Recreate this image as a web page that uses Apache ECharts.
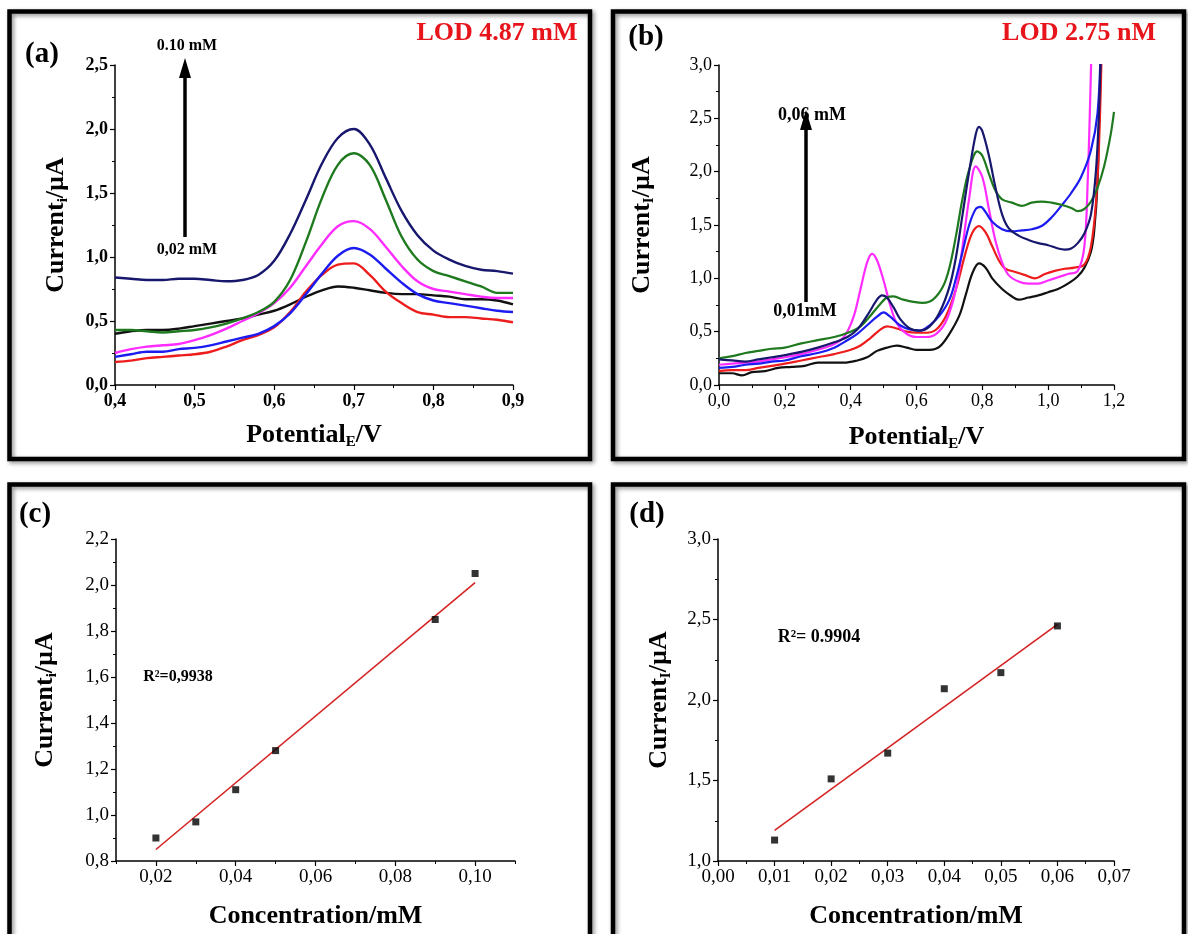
<!DOCTYPE html>
<html>
<head>
<meta charset="utf-8">
<script src="https://cdn.jsdelivr.net/npm/echarts@6/dist/echarts.min.js"></script>
<style>
    html, body { margin: 0; padding: 0; background: #fff; }
    #chart { width: 1188px; height: 934px; }
</style>
</head>
<body>
<div id="chart"></div>
<script>
    // ---------------- data: panel (a), DPV 0.02 -> 0.10 mM ----------------
    var potentialA = [0.40, 0.42, 0.44, 0.46, 0.48, 0.50, 0.52, 0.54, 0.56, 0.58, 0.60, 0.62, 0.64,
        0.66, 0.68, 0.70, 0.72, 0.74, 0.76, 0.78, 0.80, 0.82, 0.84, 0.86, 0.88, 0.90];
    var aNavy = [0.84, 0.83, 0.82, 0.82, 0.83, 0.83, 0.82, 0.81, 0.82, 0.86, 0.97, 1.18, 1.45,
        1.73, 1.93, 2.00, 1.88, 1.62, 1.36, 1.17, 1.05, 0.98, 0.93, 0.90, 0.89, 0.87];
    var aGreen = [0.43, 0.43, 0.42, 0.41, 0.42, 0.43, 0.45, 0.48, 0.52, 0.57, 0.65, 0.82, 1.12,
        1.46, 1.72, 1.81, 1.72, 1.45, 1.16, 0.98, 0.89, 0.85, 0.81, 0.77, 0.72, 0.72];
    var aMagenta = [0.25, 0.28, 0.30, 0.31, 0.32, 0.35, 0.39, 0.44, 0.50, 0.56, 0.64, 0.76, 0.93,
        1.10, 1.24, 1.28, 1.22, 1.08, 0.93, 0.81, 0.75, 0.73, 0.71, 0.69, 0.68, 0.68];
    var aBlue = [0.22, 0.24, 0.26, 0.26, 0.28, 0.29, 0.31, 0.34, 0.37, 0.40, 0.46, 0.56, 0.71,
        0.87, 1.01, 1.07, 1.02, 0.91, 0.80, 0.71, 0.66, 0.64, 0.62, 0.60, 0.58, 0.57];
    var aRed = [0.18, 0.19, 0.21, 0.22, 0.23, 0.24, 0.26, 0.30, 0.35, 0.39, 0.45, 0.57, 0.73,
        0.86, 0.94, 0.95, 0.86, 0.73, 0.64, 0.57, 0.55, 0.53, 0.53, 0.52, 0.51, 0.49];
    var aBlack = [0.40, 0.42, 0.43, 0.43, 0.44, 0.46, 0.48, 0.50, 0.52, 0.55, 0.58, 0.63, 0.69,
        0.74, 0.77, 0.76, 0.74, 0.72, 0.71, 0.71, 0.70, 0.69, 0.67, 0.67, 0.66, 0.63];

    // ---------------- data: panel (b), [potential, current] ----------------
    var bBlack = [[0, 0.11], [0.04, 0.11], [0.07, 0.09], [0.10, 0.12], [0.14, 0.13], [0.18, 0.16], [0.22, 0.17],
        [0.26, 0.18], [0.30, 0.21], [0.34, 0.21], [0.38, 0.21], [0.42, 0.23], [0.45, 0.26], [0.48, 0.32],
        [0.51, 0.35], [0.54, 0.37], [0.57, 0.35], [0.60, 0.33], [0.64, 0.33], [0.67, 0.36], [0.70, 0.48],
        [0.73, 0.65], [0.75, 0.85], [0.77, 1.05], [0.79, 1.14], [0.81, 1.10], [0.83, 1.00], [0.86, 0.90],
        [0.89, 0.83], [0.91, 0.80], [0.94, 0.82], [0.97, 0.84], [1.00, 0.87], [1.03, 0.90], [1.06, 0.95],
        [1.09, 1.02], [1.11, 1.10], [1.13, 1.25], [1.14, 1.45], [1.15, 1.90], [1.155, 2.50], [1.162, 3.20]];
    var bRed = [[0, 0.13], [0.04, 0.14], [0.08, 0.14], [0.12, 0.16], [0.16, 0.18], [0.20, 0.20], [0.25, 0.23],
        [0.30, 0.26], [0.35, 0.29], [0.40, 0.33], [0.43, 0.37], [0.46, 0.44], [0.49, 0.52], [0.51, 0.55],
        [0.54, 0.53], [0.57, 0.50], [0.60, 0.49], [0.63, 0.49], [0.66, 0.52], [0.69, 0.65], [0.72, 0.90],
        [0.75, 1.25], [0.77, 1.43], [0.79, 1.49], [0.81, 1.43], [0.83, 1.30], [0.85, 1.17], [0.87, 1.09],
        [0.90, 1.06], [0.93, 1.03], [0.96, 1.00], [0.99, 1.04], [1.02, 1.07], [1.05, 1.09], [1.08, 1.10],
        [1.11, 1.13], [1.13, 1.30], [1.145, 1.70], [1.155, 2.30], [1.163, 3.20]];
    var bMagenta = [[0, 0.19], [0.04, 0.20], [0.08, 0.21], [0.12, 0.22], [0.16, 0.24], [0.20, 0.26], [0.25, 0.29],
        [0.30, 0.33], [0.34, 0.37], [0.37, 0.42], [0.39, 0.50], [0.41, 0.65], [0.43, 0.90], [0.45, 1.15],
        [0.465, 1.23], [0.48, 1.17], [0.50, 0.98], [0.52, 0.75], [0.54, 0.58], [0.57, 0.48], [0.60, 0.45],
        [0.63, 0.45], [0.66, 0.48], [0.69, 0.60], [0.72, 0.90], [0.74, 1.30], [0.76, 1.75], [0.78, 2.05],
        [0.80, 1.95], [0.82, 1.65], [0.84, 1.35], [0.86, 1.15], [0.88, 1.03], [0.91, 0.97], [0.94, 0.95],
        [0.97, 0.95], [1.00, 0.98], [1.03, 1.01], [1.06, 1.04], [1.09, 1.07], [1.11, 1.30], [1.12, 1.90],
        [1.127, 2.60], [1.132, 3.20]];
    var bBlue = [[0, 0.16], [0.04, 0.17], [0.08, 0.19], [0.12, 0.20], [0.16, 0.22], [0.20, 0.23], [0.25, 0.27],
        [0.30, 0.30], [0.35, 0.35], [0.39, 0.42], [0.42, 0.48], [0.45, 0.56], [0.48, 0.64], [0.50, 0.68],
        [0.52, 0.64], [0.55, 0.56], [0.58, 0.52], [0.61, 0.51], [0.64, 0.56], [0.67, 0.65], [0.70, 0.80],
        [0.72, 1.00], [0.74, 1.25], [0.76, 1.50], [0.78, 1.65], [0.795, 1.67], [0.81, 1.62], [0.83, 1.53],
        [0.86, 1.46], [0.89, 1.44], [0.92, 1.45], [0.95, 1.46], [0.98, 1.49], [1.01, 1.57], [1.04, 1.68],
        [1.07, 1.80], [1.10, 1.95], [1.13, 2.20], [1.15, 2.55], [1.16, 3.20]];
    var bGreen = [[0, 0.25], [0.04, 0.27], [0.08, 0.30], [0.12, 0.32], [0.16, 0.34], [0.20, 0.35], [0.25, 0.39],
        [0.30, 0.42], [0.35, 0.45], [0.40, 0.50], [0.43, 0.55], [0.46, 0.65], [0.49, 0.76], [0.51, 0.82],
        [0.53, 0.83], [0.56, 0.80], [0.59, 0.78], [0.62, 0.77], [0.65, 0.80], [0.68, 0.92], [0.70, 1.10],
        [0.72, 1.40], [0.74, 1.75], [0.76, 2.02], [0.785, 2.19], [0.80, 2.15], [0.82, 1.98], [0.84, 1.82],
        [0.86, 1.74], [0.89, 1.71], [0.92, 1.68], [0.95, 1.71], [0.98, 1.72], [1.01, 1.71], [1.04, 1.69],
        [1.07, 1.66], [1.09, 1.63], [1.11, 1.65], [1.13, 1.72], [1.15, 1.85], [1.17, 2.05], [1.19, 2.35],
        [1.20, 2.56]];
    var bNavy = [[0, 0.24], [0.04, 0.23], [0.08, 0.22], [0.12, 0.24], [0.16, 0.26], [0.20, 0.28], [0.25, 0.31],
        [0.30, 0.35], [0.35, 0.40], [0.39, 0.45], [0.42, 0.52], [0.45, 0.65], [0.48, 0.80], [0.495, 0.84],
        [0.51, 0.82], [0.53, 0.73], [0.55, 0.62], [0.58, 0.53], [0.61, 0.51], [0.64, 0.55], [0.67, 0.68],
        [0.70, 0.92], [0.72, 1.20], [0.74, 1.60], [0.76, 2.00], [0.78, 2.35], [0.79, 2.42], [0.80, 2.38],
        [0.82, 2.15], [0.84, 1.85], [0.86, 1.60], [0.88, 1.47], [0.91, 1.40], [0.94, 1.36], [0.97, 1.33],
        [1.00, 1.31], [1.03, 1.28], [1.05, 1.27], [1.07, 1.28], [1.09, 1.33], [1.11, 1.42], [1.13, 1.60],
        [1.145, 2.00], [1.155, 2.60], [1.16, 3.20]];

    // ---------------- data: calibration (c) and (d) ----------------
    var concC = [0.02, 0.03, 0.04, 0.05, 0.09, 0.10];
    var currentC = [0.90, 0.97, 1.11, 1.28, 1.85, 2.05];
    var fitC = [[0.02, 0.85], [0.10, 2.01]];
    var concD = [0.01, 0.02, 0.03, 0.04, 0.05, 0.06];
    var currentD = [1.13, 1.51, 1.67, 2.07, 2.17, 2.46];
    var fitD = [[0.01, 1.19], [0.06, 2.47]];
    var ticksCx = [0.02, 0.04, 0.06, 0.08, 0.10];

    var SERIF = '"Liberation Serif", "Times New Roman", serif';
    var COLORS = {navy: '#17176e', green: '#1f7a1f', magenta: '#ff2cff', blue: '#1c1cf0', red: '#ee1d1d', black: '#111111'};

    function comma(d) {
        return function (v) { return v.toFixed(d).replace('.', ','); };
    }

    // common value axis
    function valueAxis(o) {
        return {
            type: 'value',
            gridIndex: o.grid,
            min: o.min,
            max: o.max,
            interval: o.interval,
            name: o.name,
            nameLocation: 'middle',
            nameGap: o.nameGap,
            nameTextStyle: {
                fontFamily: SERIF, fontSize: 26, fontWeight: 'bold', color: '#000',
                rich: {
                    s: {fontFamily: SERIF, fontSize: 15, fontWeight: 'bold', color: '#000',
                        verticalAlign: 'bottom', padding: [14, 0, 0, 0]}
                }
            },
            axisLine: {show: true, onZero: false, lineStyle: {color: '#000', width: 1.5}},
            axisTick: {show: true, inside: false, length: 5, lineStyle: {color: '#000', width: 1.2}},
            minorTick: {show: o.minor !== false, splitNumber: 2, length: 3, lineStyle: {color: '#000', width: 1}},
            axisLabel: {
                fontFamily: SERIF, fontSize: o.labelSize || 18, fontWeight: o.bold ? 'bold' : 'normal', color: '#000',
                margin: 7, formatter: comma(o.decimals)
            },
            splitLine: {show: false}
        };
    }

    function dpv(name, color, data, xi, width) {
        return {
            name: name, type: 'line', xAxisIndex: xi, yAxisIndex: xi,
            data: data, showSymbol: false, smooth: 0.35,
            lineStyle: {color: color, width: width}, clip: true, silent: true
        };
    }

    function zipA(arr) {
        return potentialA.map(function (x, i) { return [x, arr[i]]; });
    }

    function label(text, x, y, size, extra) {
        var st = {text: text, x: x, y: y, fill: '#000', font: 'bold ' + size + 'px ' + SERIF,
            textAlign: 'center', textVerticalAlign: 'middle'};
        for (var k in extra) st[k] = extra[k];
        return {type: 'text', style: st, z: 10};
    }

    function frame(x, y, w, h) {
        return {
            type: 'rect', shape: {x: x, y: y, width: w, height: h}, z: 5,
            style: {fill: 'none', stroke: '#000', lineWidth: 4.5,
                shadowColor: 'rgba(0,0,0,0.45)', shadowBlur: 4, shadowOffsetX: 2, shadowOffsetY: 2}
        };
    }

    function arrow(x, y1, y2) {
        return [
            {type: 'line', shape: {x1: x, y1: y1, x2: x, y2: y2 + 18}, style: {stroke: '#000', lineWidth: 3.5}, z: 10},
            {type: 'polygon', shape: {points: [[x - 6, y2 + 20], [x + 6, y2 + 20], [x, y2]]}, style: {fill: '#000'}, z: 10}
        ];
    }

    var chart = echarts.init(document.getElementById('chart'));

    var lodStyle = {fill: '#e8141b', shadowColor: 'rgba(0,0,0,0.35)', shadowBlur: 3, shadowOffsetX: 2, shadowOffsetY: 2};

    var option = {
        backgroundColor: '#fff',
        animation: false,
        grid: [
            {left: 115, top: 65, right: 675, bottom: 549},
            {left: 719, top: 65, right: 74, bottom: 549},
            {left: 116, top: 539, right: 673, bottom: 73},
            {left: 718, top: 539, right: 74, bottom: 73}
        ],
        xAxis: [
            valueAxis({grid: 0, min: 0.4, max: 0.9, interval: 0.1, decimals: 1, bold: true,
                name: 'Potential{s|E}/V', nameGap: 36}),
            valueAxis({grid: 1, min: 0, max: 1.2, interval: 0.2, decimals: 1,
                name: 'Potential{s|E}/V', nameGap: 38}),
            (function () {
                var ax = valueAxis({grid: 2, min: 0.01, max: 0.11, decimals: 2, minor: false, labelSize: 19,
                    name: 'Concentration/mM', nameGap: 42});
                ax.interval = undefined;
                ax.axisLabel.customValues = ticksCx;
                ax.axisTick.customValues = ticksCx;
                return ax;
            })(),
            // minor ticks for (c) x axis
            {type: 'value', gridIndex: 2, min: 0.01, max: 0.11, interval: 0.01, position: 'bottom',
                axisLine: {show: false}, axisLabel: {show: false}, splitLine: {show: false},
                axisTick: {show: true, length: 3, lineStyle: {color: '#000', width: 1}}},
            valueAxis({grid: 3, min: 0, max: 0.07, interval: 0.01, decimals: 2, labelSize: 19,
                name: 'Concentration/mM', nameGap: 42})
        ],
        yAxis: [
            valueAxis({grid: 0, min: 0, max: 2.5, interval: 0.5, decimals: 1, bold: true,
                name: 'Current{s|i}/µA', nameGap: 44}),
            valueAxis({grid: 1, min: 0, max: 3, interval: 0.5, decimals: 1,
                name: 'Current{s|I}/µA', nameGap: 62}),
            valueAxis({grid: 2, min: 0.8, max: 2.2, interval: 0.2, decimals: 1, labelSize: 19,
                name: 'Current{s|i}/µA', nameGap: 56}),
            valueAxis({grid: 3, min: 1, max: 3, interval: 0.5, decimals: 1, labelSize: 19,
                name: 'Current{s|I}/µA', nameGap: 44})
        ],
        series: [
            dpv('a-black', COLORS.black, zipA(aBlack), 0, 2.4),
            dpv('a-red', COLORS.red, zipA(aRed), 0, 2.4),
            dpv('a-blue', COLORS.blue, zipA(aBlue), 0, 2.4),
            dpv('a-magenta', COLORS.magenta, zipA(aMagenta), 0, 2.4),
            dpv('a-green', COLORS.green, zipA(aGreen), 0, 2.4),
            dpv('a-navy', COLORS.navy, zipA(aNavy), 0, 2.4),

            dpv('b-black', COLORS.black, bBlack, 1, 2.2),
            dpv('b-red', COLORS.red, bRed, 1, 2.2),
            dpv('b-magenta', COLORS.magenta, bMagenta, 1, 2.2),
            dpv('b-blue', COLORS.blue, bBlue, 1, 2.2),
            dpv('b-green', COLORS.green, bGreen, 1, 2.2),
            dpv('b-navy', COLORS.navy, bNavy, 1, 2.2),

            {type: 'line', xAxisIndex: 2, yAxisIndex: 2, data: fitC, showSymbol: false,
                lineStyle: {color: '#d42424', width: 1.6}, silent: true},
            {type: 'scatter', xAxisIndex: 2, yAxisIndex: 2, symbol: 'rect', symbolSize: 7,
                itemStyle: {color: '#000'}, z: 3,
                data: concC.map(function (c, i) { return [c, currentC[i]]; })},

            {type: 'line', xAxisIndex: 4, yAxisIndex: 3, data: fitD, showSymbol: false,
                lineStyle: {color: '#d42424', width: 1.6}, silent: true},
            {type: 'scatter', xAxisIndex: 4, yAxisIndex: 3, symbol: 'rect', symbolSize: 7,
                itemStyle: {color: '#000'}, z: 3,
                data: concD.map(function (c, i) { return [c, currentD[i]]; })}
        ],
        graphic: [].concat(
            [
                frame(9.5, 11.5, 580.5, 447.5),
                frame(613, 11.5, 571, 447.5),
                frame(9.5, 484.5, 580.5, 470),
                frame(613, 484.5, 571, 470),

                label('(a)', 42, 55, 29),
                label('(b)', 646, 38, 29),
                label('(c)', 35, 515, 29),
                label('(d)', 647, 515, 29),

                label('LOD 4.87 mM', 497, 33, 26, lodStyle),
                label('LOD 2.75 nM', 1079, 33, 26, lodStyle),

                label('0.10 mM', 187, 46, 16),
                label('0,02 mM', 187, 250, 16),
                label('0,06 mM', 812, 115, 18),
                label('0,01mM', 805, 311, 18),

                label('R²=0,9938', 178, 677, 16),
                label('R²= 0.9904', 819, 637, 18)
            ],
            arrow(185, 237, 58),
            arrow(806, 302, 110)
        )
    };

    chart.setOption(option);
</script>
</body>
</html>
